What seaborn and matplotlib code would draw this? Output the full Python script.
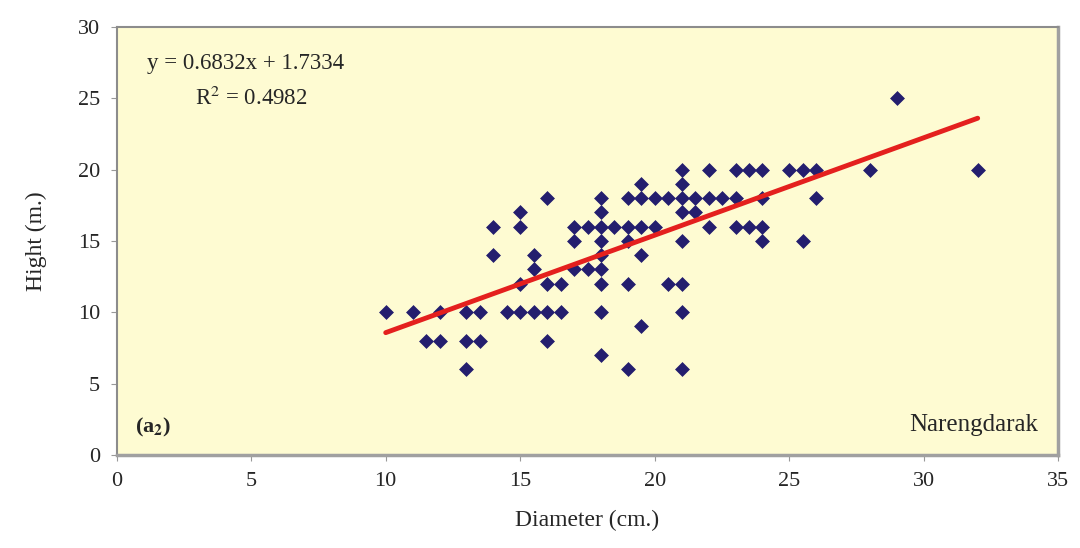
import matplotlib
matplotlib.use("Agg")
import matplotlib.pyplot as plt
import seaborn as sns
import numpy as np
import pandas as pd

# points
diameter = [10, 11, 12, 13, 13.5, 11.5, 12, 13, 13.5, 13,
            14, 14, 15, 15, 14.5, 15, 15.5, 16, 16.5,
            15.5, 15.5, 15, 16, 16.5, 16, 16,
            17, 17, 17, 17.5, 17.5,
            18, 18, 18, 18, 18, 18, 18, 18, 18, 18.5,
            19, 19, 19, 19, 19,
            19.5, 19.5, 19.5, 19.5, 19.5,
            20, 20, 20.5, 20.5,
            21, 21, 21, 21, 21, 21, 21, 21, 21.5, 21.5,
            22, 22, 22, 22.5, 23, 23, 23, 23.5, 23.5,
            24, 24, 24, 24, 25, 25.5, 26, 26, 25.5,
            28, 29, 32]
height = [10, 10, 10, 10, 10, 8, 8, 8, 8, 6,
          16, 14, 17, 16, 10, 10, 10, 10, 10,
          14, 13, 12, 12, 12, 18, 8,
          16, 15, 13, 16, 13,
          18, 17, 16, 15, 14, 13, 12, 10, 7, 16,
          18, 16, 15, 12, 6,
          19, 18, 16, 14, 9,
          18, 16, 18, 12,
          20, 19, 18, 17, 15, 12, 10, 6, 17, 18,
          20, 18, 16, 18, 20, 18, 16, 20, 16,
          20, 18, 16, 15, 20, 20, 20, 18, 15,
          20, 25, 20]

slope = 0.6832
intercept = 1.7334
r2 = 0.4982

df = pd.DataFrame({"Diameter": diameter, "Hight": height})

sns.set_style("ticks")
plt.rcParams["font.family"] = ["Liberation Serif", "DejaVu Serif"]
plt.rcParams["mathtext.fontset"] = "stix"

fig = plt.figure(figsize=(10.8, 5.48), dpi=100)
ax = fig.add_axes([0.108, 0.170, 0.872, 0.781])
ax.set_facecolor("#FEFBD2")

sns.scatterplot(data=df, x="Diameter", y="Hight", marker="D", s=50,
                color="#241E6E", edgecolor="#241E6E", linewidth=0.5,
                ax=ax, zorder=3)

xs = np.array([min(diameter), max(diameter)])
ax.plot(xs, slope * xs + intercept, color="#E4201E", linewidth=3.5, zorder=4)

ax.set_xlim(0, 35)
ax.set_ylim(0, 30)
ax.set_xticks(range(0, 36, 5))
ax.set_yticks(range(0, 31, 5))
ax.tick_params(labelsize=16, length=4, color="#999999", pad=8)

for side in ["left", "top"]:
    ax.spines[side].set_color("#8C8C8C")
    ax.spines[side].set_linewidth(1.5)
for side in ["right", "bottom"]:
    ax.spines[side].set_color("#A0A0A0")
    ax.spines[side].set_linewidth(2.5)

ax.set_xlabel("Diameter (cm.)", fontsize=17, labelpad=14)
ax.set_ylabel("Hight (m.)", fontsize=17, labelpad=22)

ax.text(0.032, 0.915, f"y = {slope}x + {intercept}", transform=ax.transAxes,
        fontsize=16.5, ha="left", va="center")
ax.text(0.083, 0.833, f"R$^{{2}}$ = {r2}", transform=ax.transAxes,
        fontsize=16.5, ha="left", va="center")
ax.text(0.020, 0.065, "(a$_{\\mathbf{2}}$)", transform=ax.transAxes, fontsize=16,
        fontweight="bold", ha="left", va="center")
ax.text(0.978, 0.07, "Narengdarak", transform=ax.transAxes, fontsize=18,
        ha="right", va="center")

fig.savefig("out.png", dpi=100, facecolor="white")
